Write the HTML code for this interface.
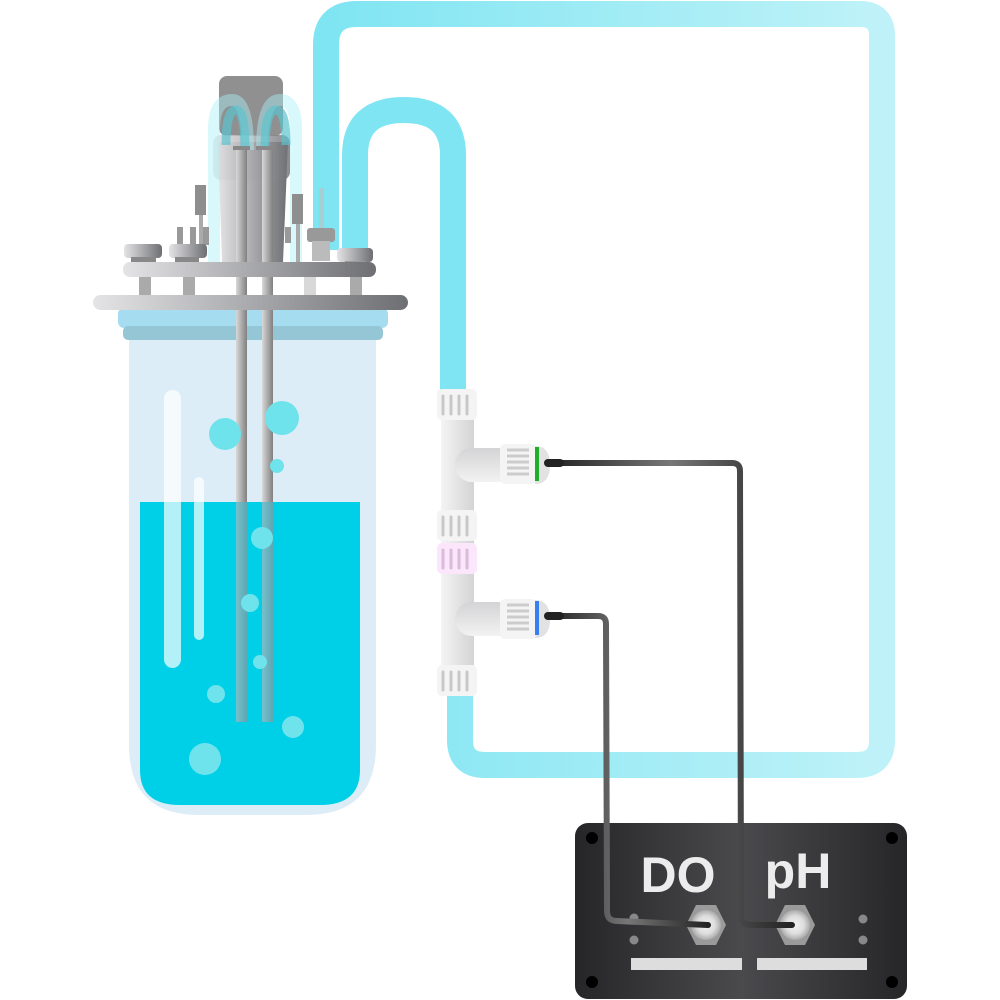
<!DOCTYPE html>
<html><head><meta charset="utf-8"><style>html,body{margin:0;padding:0;background:#fff}svg{display:block}</style></head><body>
<svg width="1000" height="1000" viewBox="0 0 1000 1000" xmlns="http://www.w3.org/2000/svg">
<defs>
<linearGradient id="tubeG" x1="0" x2="1" y1="0" y2="0"><stop offset="0" stop-color="#7fe5f2"/><stop offset="1" stop-color="#bff2f8"/></linearGradient>
<linearGradient id="metal" x1="0" x2="1"><stop offset="0" stop-color="#e4e4e6"/><stop offset="1" stop-color="#6e6f73"/></linearGradient>
<linearGradient id="rod" x1="0" x2="1"><stop offset="0" stop-color="#d8d8d8"/><stop offset="1" stop-color="#808080"/></linearGradient>
<linearGradient id="box" x1="0" x2="1"><stop offset="0" stop-color="#262628"/><stop offset="0.5" stop-color="#4a4a4d"/><stop offset="1" stop-color="#262628"/></linearGradient>
<linearGradient id="fit" x1="0" x2="1"><stop offset="0" stop-color="#f4f4f4"/><stop offset="1" stop-color="#d4d4d6"/></linearGradient>
<linearGradient id="fitv" x1="0" x2="0" y1="0" y2="1"><stop offset="0" stop-color="#d4d4d6"/><stop offset="1" stop-color="#f2f2f2"/></linearGradient>
<linearGradient id="wire" x1="0" x2="1"><stop offset="0" stop-color="#222"/><stop offset="0.5" stop-color="#777"/><stop offset="1" stop-color="#222"/></linearGradient>
<radialGradient id="nut"><stop offset="0" stop-color="#f2f2f2"/><stop offset="0.6" stop-color="#ddd"/><stop offset="1" stop-color="#aaa"/></radialGradient>
</defs>

<!-- outer tube -->
<path d="M326 250 L326 45 Q326 14 357 14 L860 14 Q882 14 882 36 L882 740 Q882 765 857 765 L485 765 Q460 765 460 740 L460 690" fill="none" stroke="url(#tubeG)" stroke-width="26"/>
<!-- inner tube -->
<path d="M355 250 L355 155 Q355 110 404 110 Q453 110 453 155 L453 392" fill="none" stroke="#7fe5f2" stroke-width="26"/>

<!-- vessel glass -->
<path d="M129 338 L376 338 L376 745 Q376 815 306 815 L199 815 Q129 815 129 745 Z" fill="#dcedf7"/>
<path d="M140 502 L360 502 L360 770 Q360 805 320 805 L180 805 Q140 805 140 770 Z" fill="#00cfe8"/>
<rect x="164" y="390" width="17" height="278" rx="8.5" fill="#fff" opacity="0.7"/>
<rect x="194" y="477" width="10" height="163" rx="5" fill="#fff" opacity="0.7"/>
<rect x="118" y="308" width="270" height="20" rx="6" fill="#a6dcf0"/>
<rect x="123" y="326" width="260" height="14" rx="5" fill="#95c6d6"/>

<rect x="236" y="145" width="11" height="577" fill="url(#rod)"/>
<rect x="262" y="145" width="11" height="577" fill="url(#rod)"/>
<rect x="236" y="502" width="11" height="220" fill="#4fb6c8" opacity="0.7"/>
<rect x="262" y="502" width="11" height="220" fill="#4fb6c8" opacity="0.7"/>

<g fill="#6fe3ec">
<circle cx="225" cy="434" r="16"/><circle cx="282" cy="418" r="17"/><circle cx="277" cy="466" r="7"/>
<circle cx="262" cy="538" r="11"/><circle cx="250" cy="603" r="9"/><circle cx="260" cy="662" r="7"/>
<circle cx="216" cy="694" r="9"/><circle cx="293" cy="727" r="11"/><circle cx="205" cy="759" r="16"/>
</g>

<!-- head -->
<rect x="219" y="76" width="64" height="60" rx="8" fill="#909090"/>
<path d="M218 142 L288 142 L283 262 L222 262 Z" fill="url(#metal)"/>
<rect x="213" y="135" width="77" height="45" rx="8" fill="url(#metal)" opacity="0.8"/>
<path d="M214 262 L214 130 Q214 100 232 100 Q248 100 248 150 M262 150 Q262 100 280 100 Q296 100 296 130 L296 262" fill="none" stroke="#a8f0f7" stroke-width="12" opacity="0.45"/>
<path d="M226 145 Q226 110 236 110 Q245 110 245 150 M265 150 Q265 110 276 110 Q286 110 286 145" fill="none" stroke="#5cc3cf" stroke-width="9" opacity="0.7"/>
<rect x="233" y="146" width="17" height="4" fill="#888"/><rect x="256" y="146" width="19" height="4" fill="#888"/>
<rect x="236" y="150" width="11" height="150" fill="url(#rod)"/>
<rect x="262" y="150" width="11" height="150" fill="url(#rod)"/>
<rect x="195" y="185" width="11" height="30" fill="#8e8e8e"/><rect x="199" y="215" width="4" height="40" fill="#aaa"/>
<rect x="177" y="227" width="6" height="18" fill="#999"/><rect x="190" y="227" width="6" height="18" fill="#999"/><rect x="203" y="227" width="6" height="18" fill="#999"/>
<rect x="292" y="194" width="11" height="30" fill="#8e8e8e"/><rect x="296" y="224" width="4" height="38" fill="#aaa"/>
<rect x="285" y="227" width="6" height="16" fill="#999"/>
<rect x="319" y="188" width="5" height="40" fill="#a5cfd3"/>
<rect x="307" y="228" width="28" height="14" rx="3" fill="#999"/><rect x="312" y="241" width="18" height="20" fill="#bbb"/>
<rect x="124" y="244" width="38" height="14" rx="4" fill="url(#metal)"/><rect x="131" y="257" width="25" height="6" fill="#888"/>
<rect x="169" y="244" width="38" height="14" rx="4" fill="url(#metal)"/><rect x="175" y="257" width="24" height="10" fill="#888"/>
<rect x="337" y="248" width="36" height="14" rx="4" fill="url(#metal)"/><rect x="345" y="261" width="20" height="10" fill="#999"/>
<rect x="123" y="262" width="253" height="15" rx="7" fill="url(#metal)"/>
<rect x="139" y="277" width="12" height="20" fill="#aaa"/><rect x="183" y="277" width="12" height="20" fill="#aaa"/>
<rect x="304" y="277" width="12" height="20" fill="#d8d8d8"/><rect x="350" y="277" width="12" height="20" fill="#aaa"/>
<rect x="236" y="277" width="11" height="20" fill="url(#rod)"/><rect x="262" y="277" width="11" height="20" fill="url(#rod)"/>
<rect x="93" y="295" width="315" height="15" rx="7.5" fill="url(#metal)"/>
<rect x="236" y="310" width="11" height="30" fill="url(#rod)"/><rect x="262" y="310" width="11" height="30" fill="url(#rod)"/>

<!-- T fitting -->
<rect x="441" y="395" width="33" height="300" fill="url(#fit)"/>
<rect x="455" y="448" width="60" height="34" rx="17" fill="url(#fitv)"/>
<rect x="455" y="602" width="60" height="34" rx="17" fill="url(#fitv)"/>
<rect x="437" y="389" width="40" height="31" rx="5" fill="#f4f4f4"/>
<rect x="437" y="510" width="40" height="31" rx="5" fill="#f4f4f4"/>
<rect x="437" y="543" width="40" height="31" rx="5" fill="#fbe6fb"/>
<rect x="437" y="665" width="40" height="31" rx="5" fill="#f4f4f4"/>
<g stroke="#c8c8c8" stroke-width="3" stroke-linecap="round">
<path d="M443 396v18M451 396v18M459 396v18M467 396v18M443 517v18M451 517v18M459 517v18M467 517v18M443 672v18M451 672v18M459 672v18M467 672v18"/>
<path d="M443 550v18M451 550v18M459 550v18M467 550v18" stroke="#d9bcd9"/>
</g>
<path d="M535 446 Q550 446 550 465 Q550 484 535 484 Z" fill="#e2e2e4"/>
<path d="M535 600 Q550 600 550 619 Q550 638 535 638 Z" fill="#e2e2e4"/>
<rect x="500" y="444" width="36" height="40" rx="5" fill="#f4f4f4"/>
<rect x="500" y="599" width="36" height="40" rx="5" fill="#f4f4f4"/>
<g stroke="#ccc" stroke-width="3"><path d="M507 450h22M507 456h22M507 462h22M507 468h22M507 474h22M507 605h22M507 611h22M507 617h22M507 623h22M507 629h22"/></g>
<rect x="535" y="447" width="4" height="34" fill="#1fae2a"/>
<rect x="535" y="601" width="4" height="34" fill="#3a7ff0"/>

<!-- box -->
<rect x="575" y="823" width="332" height="176" rx="13" fill="url(#box)"/>
<g fill="#000"><circle cx="592" cy="838" r="6"/><circle cx="892" cy="838" r="6"/><circle cx="592" cy="982" r="6"/><circle cx="892" cy="982" r="6"/></g>
<text x="678" y="892" text-anchor="middle" font-family="Liberation Sans, sans-serif" font-weight="bold" font-size="50" fill="#ececec">DO</text>
<text x="798" y="888" text-anchor="middle" font-family="Liberation Sans, sans-serif" font-weight="bold" font-size="50" fill="#ececec">pH</text>
<g fill="#888"><circle cx="634" cy="918" r="4.5"/><circle cx="634" cy="940" r="4.5"/><circle cx="863" cy="919" r="4.5"/><circle cx="863" cy="940" r="4.5"/></g>
<rect x="631" y="958" width="111" height="12" fill="#ddd"/>
<rect x="757" y="958" width="110" height="12" fill="#ddd"/>
<polygon points="686,925 696,905 716,905 726,925 716,945 696,945" fill="#9a9a9a"/>
<circle cx="706" cy="925" r="15" fill="url(#nut)"/>
<polygon points="775,925 785,905 805,905 815,925 805,945 785,945" fill="#9a9a9a"/>
<circle cx="795" cy="925" r="15" fill="url(#nut)"/>

<!-- wires -->
<path d="M550 463 L732 463 Q740 463 740 471 L741 915 Q741 925 751 925 L792 925" fill="none" stroke="url(#wire)" stroke-width="6" stroke-linecap="round"/>
<path d="M548 616 L598 616 Q606 616 606 624 L607 911 Q607 921 617 921 L708 925" fill="none" stroke="url(#wire)" stroke-width="6" stroke-linecap="round"/>
<path d="M548 463 L560 463" stroke="#222" stroke-width="8" stroke-linecap="round"/>
<path d="M548 616 L560 616" stroke="#222" stroke-width="8" stroke-linecap="round"/>
</svg>
</body></html>
